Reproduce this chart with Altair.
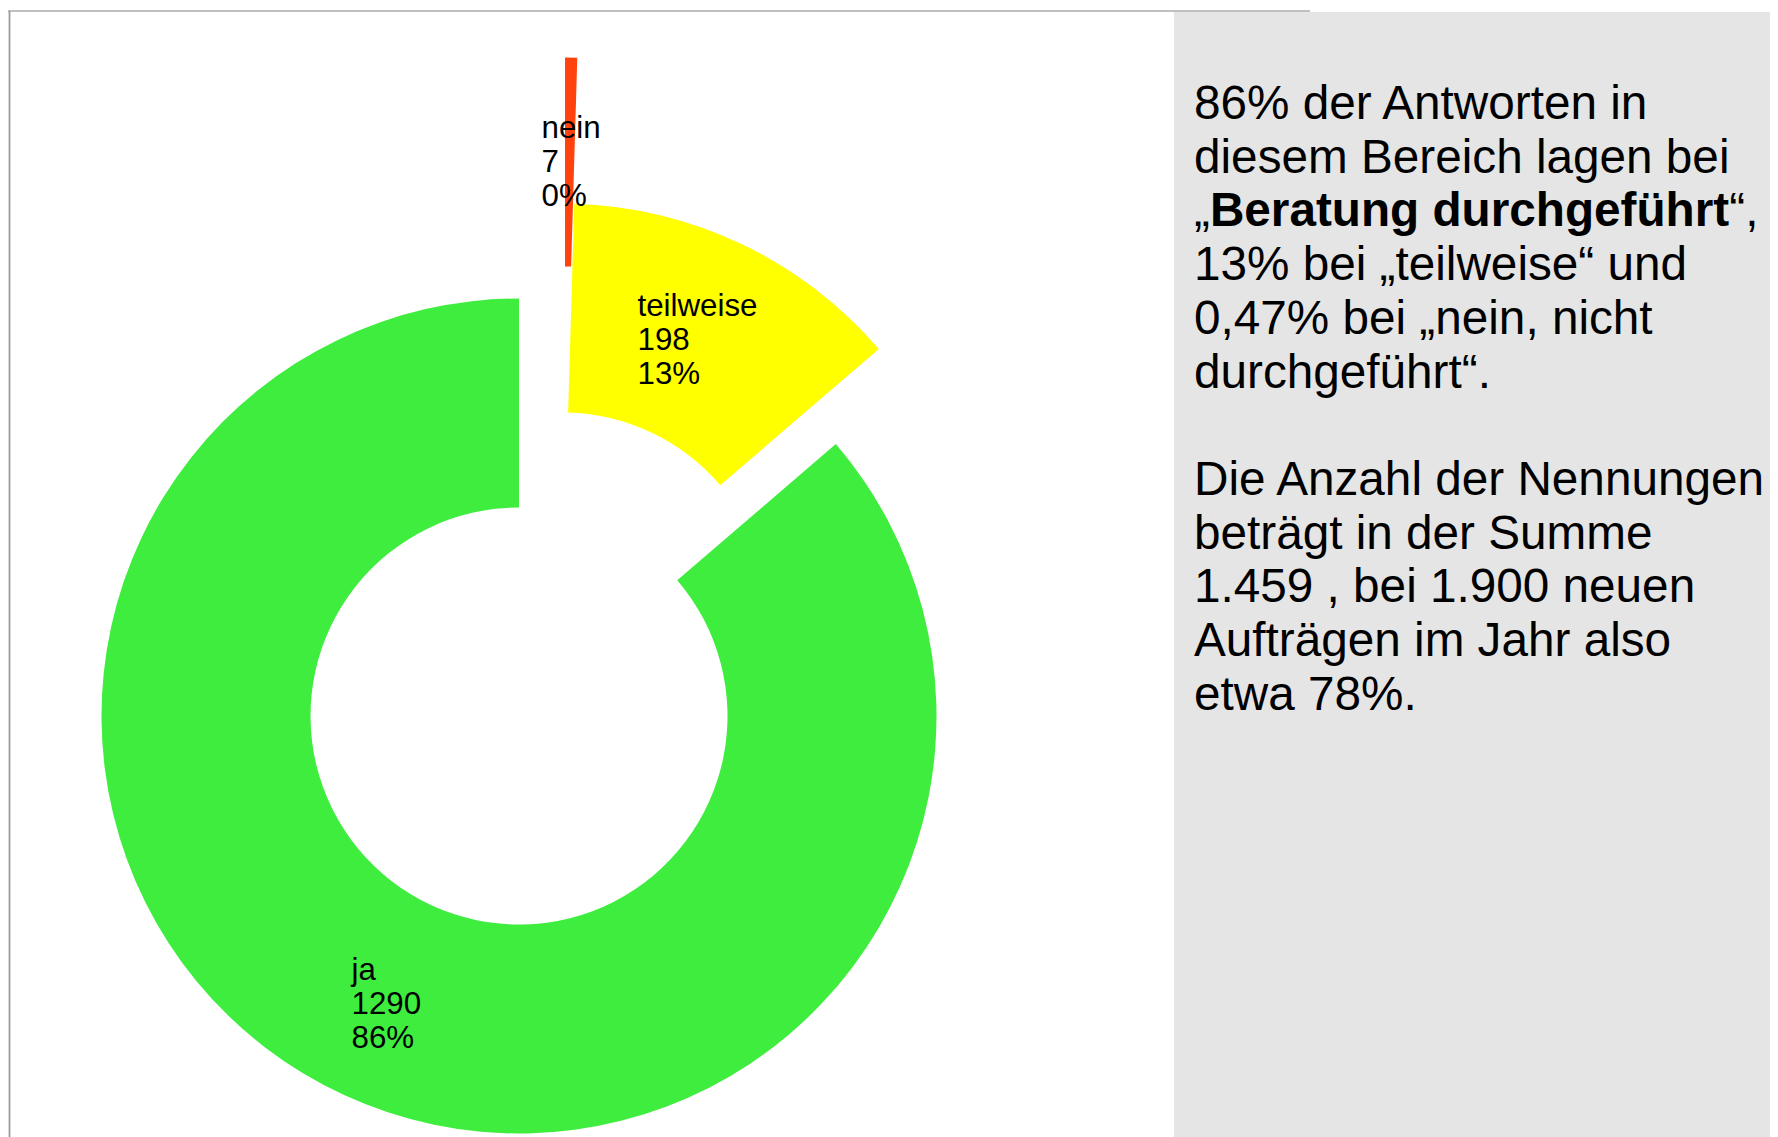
import math
import altair as alt
import pandas as pd

# ---- data ----
categories = ["nein", "teilweise", "ja"]
counts = [7, 198, 1290]
colors = ["#ff420e", "#ffff00", "#3eed3e"]

para1 = [
    "86% der Antworten in",
    "diesem Bereich lagen bei",
    "",  # mixed-weight line drawn separately
    "13% bei „teilweise“ und",
    "0,47% bei „nein, nicht",
    "durchgeführt“.",
]
bold_line = ["„", "Beratung durchgeführt", "“,"]
para2 = [
    "Die Anzahl der Nennungen",
    "beträgt in der Summe",
    "1.459 , bei 1.900 neuen",
    "Aufträgen im Jahr also",
    "etwa 78%.",
]

# ---- layout (page coordinates, page margin 8px) ----
OX, OY = 8, 8
W, H = 1762, 1129
FONT = "Liberation Sans"

total = sum(counts)
labels = [f"{c}\n{n}\n{round(100 * n / total)}%" for c, n in zip(categories, counts)]
df = pd.DataFrame({"cat": categories, "count": counts, "order": list(range(len(categories))), "label": labels})

centers = {"nein": (565, 475), "teilweise": (562, 621), "ja": (519, 716)}
label_pos = {"nein": (541.5, 138), "teilweise": (637.5, 316), "ja": (351.5, 980)}
R_OUT, R_IN = 417.5, 208.5

base = (
    alt.Chart(df)
    .transform_window(cum="sum(count)", sort=[alt.SortField("order")], frame=[None, 0])
    .transform_calculate(start="datum.cum - datum.count")
)
theta_scale = alt.Scale(domain=[0, total], range=[0, 2 * math.pi])

layers = []

# right grey panel
panel = alt.Chart(df).mark_rect(color="#e5e5e5").encode(
    x=alt.value(1174 - OX), x2=alt.value(W), y=alt.value(12 - OY), y2=alt.value(H)
)
layers.append(panel)

# borders
top_rule = alt.Chart(df).mark_rule(color="#c0c0c0", strokeWidth=2).encode(
    x=alt.value(8 - OX), x2=alt.value(1310 - OX), y=alt.value(11 - OY)
)
left_rule = alt.Chart(df).mark_rule(color="#9a9a9a", strokeWidth=1.3).encode(
    x=alt.value(9.5 - OX), y=alt.value(11 - OY), y2=alt.value(H)
)
layers += [top_rule, left_rule]

for cat, col in zip(categories, colors):
    cx, cy = centers[cat]
    arc = (
        base.transform_filter(alt.datum.cat == cat)
        .mark_arc(color=col, outerRadius=R_OUT, innerRadius=R_IN)
        .encode(
            theta=alt.Theta("start:Q", scale=theta_scale),
            theta2="cum:Q",
            x=alt.value(cx - OX),
            y=alt.value(cy - OY),
        )
    )
    layers.append(arc)

for cat in categories:
    lx, ly = label_pos[cat]
    txt = (
        alt.Chart(df)
        .transform_filter(alt.datum.cat == cat)
        .mark_text(
            align="left", baseline="alphabetic", font=FONT, fontSize=31.3,
            lineHeight=34, lineBreak="\n", color="#000000",
        )
        .encode(x=alt.value(lx - OX), y=alt.value(ly - OY), text="label:N")
    )
    layers.append(txt)

# right text block
all_lines = para1 + [""] + para2
tdf = pd.DataFrame({"t": all_lines, "i": list(range(len(all_lines)))})
TX, TY0, TSP, TFS = 1194, 119, 53.7, 47.7
block = (
    alt.Chart(tdf)
    .transform_calculate(yy=f"{TY0 - OY} + datum.i * {TSP}")
    .mark_text(align="left", baseline="alphabetic", font=FONT, fontSize=TFS, color="#000000")
    .encode(x=alt.value(TX - OX), y=alt.Y("yy:Q", scale=None), text="t:N")
)
layers.append(block)

# mixed-weight third line
bdf = pd.DataFrame({"t": bold_line, "w": ["normal", "bold", "normal"], "k": [0, 1, 2]})
piece_x = [TX, TX + 0.333 * TFS, TX + 0.333 * TFS + 10.889 * TFS]
for k, (t, w) in enumerate(zip(bold_line, ["normal", "bold", "normal"])):
    piece = (
        alt.Chart(bdf)
        .transform_filter(alt.datum.k == k)
        .mark_text(align="left", baseline="alphabetic", font=FONT, fontSize=TFS,
                   fontWeight=w, color="#000000")
        .encode(x=alt.value(piece_x[k] - OX), y=alt.value(TY0 + 2 * TSP - OY), text="t:N")
    )
    layers.append(piece)

chart = (
    alt.layer(*layers)
    .properties(width=W, height=H, padding=0, autosize=alt.AutoSizeParams(type="none"), background="#ffffff")
    .configure_view(strokeWidth=0)
)

chart.save("out.html", embed_options={"renderer": "svg", "actions": False})
